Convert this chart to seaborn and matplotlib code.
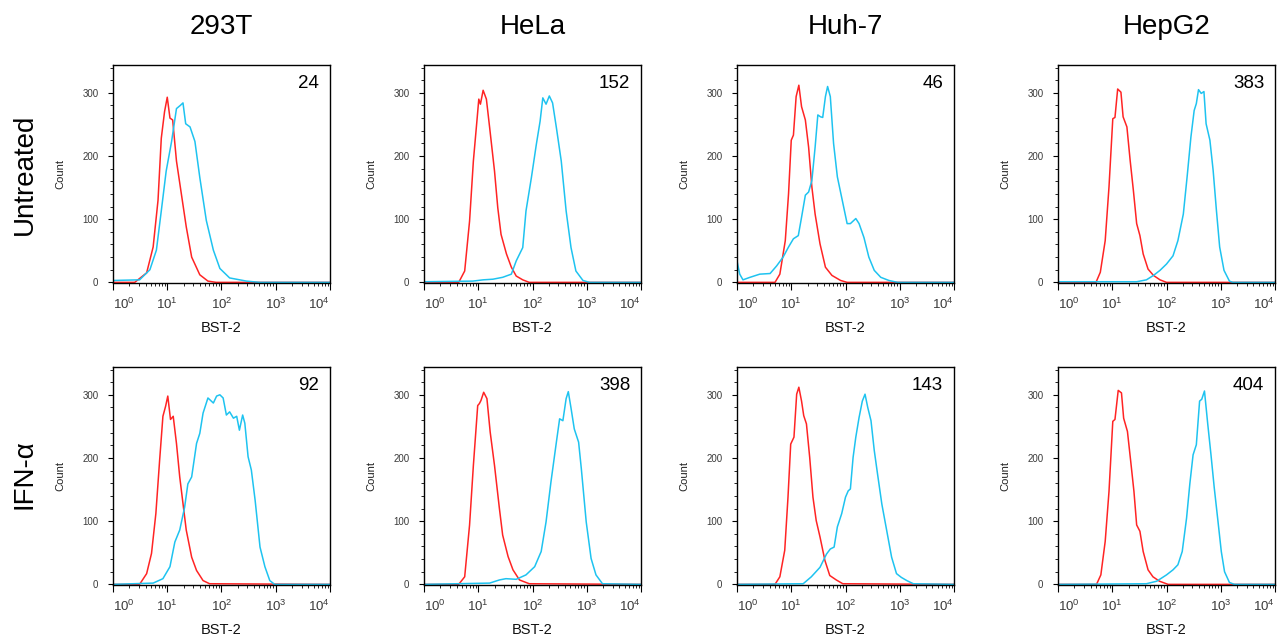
import numpy as np
import matplotlib
matplotlib.use("Agg")
import matplotlib.pyplot as plt
import seaborn as sns
from matplotlib.ticker import LogLocator, MultipleLocator, NullFormatter

sns.set_theme(style="ticks")
plt.rcParams["font.family"] = ["Liberation Sans", "DejaVu Sans"]
plt.rcParams["mathtext.fontset"] = "custom"
plt.rcParams["mathtext.rm"] = "Liberation Sans"

cell_lines = ["293T", "HeLa", "Huh-7", "HepG2"]
treatments = ["Untreated", "IFN-\u03b1"]
mfi_untreated = [24, 152, 46, 383]
mfi_ifn = [92, 398, 143, 404]

# histogram outlines: log10(BST-2 intensity) vs count
# iso = red control curve, bst = cyan BST-2 stain
u293_iso_x = [0, 0.40, 0.62, 0.74, 0.83, 0.89, 0.95, 1.00, 1.05, 1.10, 1.17, 1.26, 1.35, 1.45, 1.60, 1.75, 1.90, 4]
u293_iso_y = [0, 0, 15, 56, 130, 228, 270, 293, 260, 257, 192, 140, 88, 40, 12, 2, 0, 0]
u293_bst_x = [0, 0.49, 0.68, 0.80, 0.89, 0.98, 1.08, 1.17, 1.24, 1.29, 1.34, 1.42, 1.51, 1.60, 1.72, 1.85, 1.97, 2.15, 2.46, 2.70, 4]
u293_bst_y = [3, 4, 20, 51, 113, 176, 223, 275, 280, 284, 251, 246, 223, 166, 98, 51, 22, 7, 2, 0, 0]

uhela_iso_x = [0, 0.64, 0.75, 0.84, 0.91, 0.98, 1.01, 1.04, 1.09, 1.15, 1.21, 1.30, 1.36, 1.42, 1.52, 1.61, 1.70, 1.82, 1.94, 4]
uhela_iso_y = [0, 0, 18, 97, 192, 260, 290, 282, 304, 290, 245, 176, 118, 76, 45, 24, 10, 4, 0, 0]
uhela_bst_x = [0, 0.90, 1.09, 1.27, 1.45, 1.61, 1.70, 1.82, 1.88, 1.98, 2.07, 2.14, 2.19, 2.25, 2.31, 2.37, 2.44, 2.53, 2.62, 2.71, 2.80, 2.93, 3.05, 4]
uhela_bst_y = [1, 2, 4, 5, 8, 13, 34, 55, 113, 166, 218, 255, 292, 282, 295, 284, 245, 192, 113, 55, 18, 3, 0, 0]

uhuh_iso_x = [0, 0.70, 0.79, 0.89, 0.95, 1.00, 1.04, 1.09, 1.14, 1.19, 1.26, 1.32, 1.38, 1.44, 1.53, 1.63, 1.75, 1.91, 2.03, 4]
uhuh_iso_y = [0, 0, 13, 66, 140, 225, 233, 294, 312, 278, 257, 214, 151, 108, 61, 24, 11, 3, 0, 0]
uhuh_bst_x = [0, 0.05, 0.11, 0.24, 0.42, 0.61, 0.73, 0.85, 0.95, 1.04, 1.13, 1.19, 1.26, 1.32, 1.38, 1.44, 1.49, 1.54,
              1.58, 1.63, 1.67, 1.72, 1.78, 1.85, 1.94, 2.03, 2.09, 2.19, 2.25, 2.34, 2.43, 2.53, 2.65, 2.80, 2.96, 4]
uhuh_bst_y = [34, 13, 4, 8, 13, 14, 26, 40, 56, 69, 74, 103, 138, 143, 161, 214, 265, 262,
              261, 294, 310, 294, 220, 167, 130, 93, 93, 101, 93, 71, 40, 19, 8, 3, 0, 0]

uhep_iso_x = [0, 0.70, 0.78, 0.87, 0.94, 1.01, 1.05, 1.10, 1.16, 1.20, 1.27, 1.33, 1.39, 1.45, 1.51, 1.57, 1.66, 1.76, 1.88, 2.00, 4]
uhep_iso_y = [0, 0, 16, 66, 151, 259, 261, 306, 301, 262, 246, 193, 145, 93, 74, 45, 21, 11, 4, 0, 0]
uhep_bst_x = [0, 1.45, 1.63, 1.76, 1.88, 2.00, 2.12, 2.21, 2.31, 2.38, 2.45, 2.51, 2.55, 2.59, 2.64, 2.69, 2.73, 2.80,
              2.86, 2.92, 2.98, 3.06, 3.16, 3.22, 4]
uhep_bst_y = [1, 1, 4, 11, 19, 29, 42, 66, 108, 167, 230, 272, 283, 305, 299, 302, 251, 225,
              177, 114, 56, 19, 2, 0, 0]

i293_iso_x = [0, 0.49, 0.62, 0.71, 0.79, 0.86, 0.92, 0.97, 1.01, 1.06, 1.11, 1.17, 1.23, 1.29, 1.35, 1.45, 1.54, 1.66, 1.78, 4]
i293_iso_y = [0, 0, 17, 49, 112, 197, 266, 282, 298, 261, 266, 223, 170, 128, 86, 43, 22, 6, 1, 0]
i293_bst_x = [0, 0.74, 0.92, 1.05, 1.14, 1.23, 1.32, 1.38, 1.45, 1.54, 1.60, 1.66, 1.75, 1.85, 1.91, 1.97, 2.03, 2.09,
              2.15, 2.22, 2.28, 2.33, 2.39, 2.43, 2.49, 2.55, 2.62, 2.71, 2.80, 2.89, 2.98, 4]
i293_bst_y = [0, 2, 9, 28, 67, 86, 122, 159, 170, 223, 239, 271, 295, 287, 298, 300, 295, 268,
              273, 263, 266, 244, 268, 255, 202, 181, 133, 59, 28, 6, 0, 0]

ihela_iso_x = [0, 0.64, 0.75, 0.84, 0.91, 0.99, 1.02, 1.05, 1.10, 1.16, 1.22, 1.30, 1.39, 1.45, 1.55, 1.64, 1.76, 1.94, 4]
ihela_iso_y = [0, 0, 12, 94, 188, 283, 286, 291, 304, 294, 241, 188, 120, 78, 44, 23, 7, 1, 0]
ihela_bst_x = [0, 1.21, 1.39, 1.51, 1.70, 1.88, 2.04, 2.16, 2.25, 2.34, 2.44, 2.50, 2.56, 2.62, 2.66, 2.71, 2.77, 2.85,
               2.90, 2.99, 3.08, 3.17, 3.29, 4]
ihela_bst_y = [0, 2, 7, 9, 8, 15, 28, 52, 99, 162, 225, 262, 259, 294, 305, 279, 246, 225,
               183, 99, 41, 15, 1, 0]

ihuh_iso_x = [0, 0.70, 0.79, 0.88, 0.94, 0.99, 1.05, 1.10, 1.14, 1.19, 1.23, 1.28, 1.34, 1.40, 1.46, 1.53, 1.62, 1.71, 1.83, 1.95, 4]
ihuh_iso_y = [0, 0, 12, 54, 138, 222, 233, 301, 312, 290, 267, 254, 201, 138, 101, 75, 38, 14, 7, 1, 0]
ihuh_bst_x = [0, 1.22, 1.37, 1.53, 1.65, 1.72, 1.79, 1.85, 1.93, 2.00, 2.05, 2.09, 2.14, 2.19, 2.25, 2.31, 2.36, 2.41,
              2.47, 2.53, 2.59, 2.67, 2.76, 2.85, 2.94, 3.03, 3.13, 3.25, 4]
ihuh_bst_y = [0, 1, 12, 27, 48, 56, 59, 91, 112, 138, 148, 151, 201, 233, 264, 290, 301, 280,
              259, 212, 175, 127, 85, 43, 17, 11, 6, 1, 0]

ihep_iso_x = [0, 0.71, 0.79, 0.87, 0.94, 1.01, 1.05, 1.11, 1.17, 1.21, 1.28, 1.34, 1.40, 1.45, 1.51, 1.57, 1.66, 1.75, 1.87, 2.03, 4]
ihep_iso_y = [0, 0, 15, 68, 147, 258, 261, 307, 303, 263, 242, 195, 147, 94, 84, 52, 23, 12, 5, 0, 0]
ihep_bst_x = [0, 1.63, 1.82, 2.00, 2.12, 2.21, 2.29, 2.37, 2.43, 2.49, 2.55, 2.61, 2.65, 2.70, 2.76, 2.82, 2.88, 2.95,
              3.01, 3.07, 3.16, 3.25, 4]
ihep_bst_y = [0, 1, 5, 15, 23, 31, 52, 105, 159, 205, 221, 290, 293, 306, 254, 205, 153, 99,
              52, 20, 3, 0, 0]

panels = [
    [(u293_iso_x, u293_iso_y, u293_bst_x, u293_bst_y),
     (uhela_iso_x, uhela_iso_y, uhela_bst_x, uhela_bst_y),
     (uhuh_iso_x, uhuh_iso_y, uhuh_bst_x, uhuh_bst_y),
     (uhep_iso_x, uhep_iso_y, uhep_bst_x, uhep_bst_y)],
    [(i293_iso_x, i293_iso_y, i293_bst_x, i293_bst_y),
     (ihela_iso_x, ihela_iso_y, ihela_bst_x, ihela_bst_y),
     (ihuh_iso_x, ihuh_iso_y, ihuh_bst_x, ihuh_bst_y),
     (ihep_iso_x, ihep_iso_y, ihep_bst_x, ihep_bst_y)],
]
mfi = [mfi_untreated, mfi_ifn]

RED = "#ff2424"
CYAN = "#1ec3f0"
TICK_GRAY = "#3a3a3a"

W, H = 1283, 639
fig = plt.figure(figsize=(W / 100, H / 100), dpi=100)

col_left = [113, 424, 737, 1058]
row_top = [65, 367]
ax_w, ax_h = 217, 218

for r in range(2):
    for c in range(4):
        left = col_left[c] / W
        bottom = 1 - (row_top[r] + ax_h) / H
        ax = fig.add_axes([left, bottom, ax_w / W, ax_h / H])
        iso_x, iso_y, bst_x, bst_y = panels[r][c]

        sns.lineplot(x=10 ** np.array(iso_x), y=iso_y, ax=ax, color=RED, lw=1.1,
                     estimator=None, sort=False)
        sns.lineplot(x=10 ** np.array(bst_x), y=bst_y, ax=ax, color=CYAN, lw=1.1,
                     estimator=None, sort=False)

        ax.set_xscale("log")
        ax.set_xlim(1, 1e4)
        ax.set_ylim(-1, 344)
        ax.set_xticks([1, 10, 100, 1000, 10000])
        ax.set_xticklabels([r"$\mathregular{10^{%d}}$" % i for i in range(5)])
        ax.xaxis.set_minor_locator(LogLocator(base=10, subs=np.arange(2, 10), numticks=20))
        ax.xaxis.set_minor_formatter(NullFormatter())
        ax.set_yticks([0, 100, 200, 300])
        ax.yaxis.set_minor_locator(MultipleLocator(20))

        ax.tick_params(axis="x", which="major", length=5, width=0.8, color="black",
                       labelsize=9.5, labelcolor=TICK_GRAY, pad=5)
        ax.tick_params(axis="x", which="minor", length=2.5, width=0.6, color="black")
        ax.tick_params(axis="y", which="major", length=3.5, width=0.8, color="black",
                       labelsize=7, labelcolor=TICK_GRAY, pad=7)
        ax.tick_params(axis="y", which="minor", length=2, width=0.6, color="black")

        labels = ax.get_xticklabels()
        labels[0].set_horizontalalignment("left")
        labels[-1].set_horizontalalignment("right")

        for sp in ax.spines.values():
            sp.set_color("black")
            sp.set_linewidth(1.0)

        ax.set_ylabel("Count", fontsize=8, color="#222222")
        ax.yaxis.set_label_coords(-0.22, 0.5)
        ax.set_xlabel("BST-2", fontsize=10.5, color="#111111")
        ax.xaxis.set_label_coords(0.5, -0.175)

        ax.text(0.95, 0.915, str(mfi[r][c]), transform=ax.transAxes,
                ha="right", va="center", fontsize=13.5, color="black")

        if r == 0:
            fig.text(left + ax_w / W / 2, 0.957, cell_lines[c], ha="center", va="center",
                     fontsize=20, color="black")

fig.text(0.019, 1 - 174 / H, treatments[0], rotation=90, ha="center", va="center",
         fontsize=20, color="black")
fig.text(0.019, 1 - 474 / H, treatments[1], rotation=90, ha="center", va="center",
         fontsize=20, color="black")

fig.savefig("out.png", dpi=100)
